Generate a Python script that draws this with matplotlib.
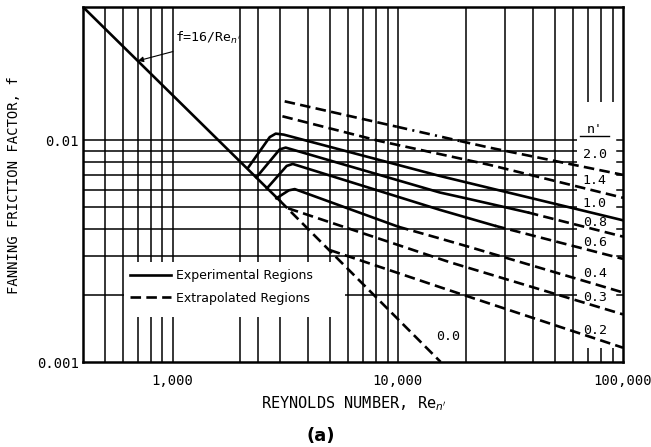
import matplotlib
matplotlib.use("Agg")
import matplotlib.pyplot as plt
from matplotlib.lines import Line2D
from matplotlib.patches import Rectangle
from matplotlib.ticker import NullLocator

plt.rcParams['mathtext.fontset'] = 'dejavusans'
MONO = 'DejaVu Sans Mono'

# ---------------- data ----------------
x_ticks = [1000, 10000, 100000]
x_tick_labels = ["1,000", "10,000", "100,000"]
y_ticks = [0.001, 0.01]
y_tick_labels = ["0.001", "0.01"]

x_grid = [500, 600, 700, 800, 900, 1000, 2000, 2400, 3000, 4000, 5000, 6000,
          7000, 8000, 9000, 10000, 20000, 30000, 40000, 50000, 60000, 70000,
          80000, 90000]
y_grid = [0.002, 0.003, 0.004, 0.005, 0.006, 0.007, 0.008, 0.009, 0.01]

# laminar line f = 16/Re
lam_re = [400, 2990]
lam_f = [0.0400, 0.00535]

# experimental (solid) regions
exp_n10_re = [2160, 2700, 2870, 3114, 15370, 100000]
exp_n10_f = [0.00751, 0.01035, 0.01073, 0.01062, 0.00691, 0.00436]
exp_n08_re = [2355, 2989, 3178, 15370, 20890, 37830]
exp_n08_f = [0.00681, 0.00911, 0.00928, 0.00582, 0.00543, 0.00473]
exp_n06_re = [2625, 3210, 3415, 15370, 26980]
exp_n06_f = [0.00608, 0.00767, 0.00783, 0.00486, 0.00412]
exp_n04_re = [2890, 3279, 3485, 10030]
exp_n04_f = [0.00548, 0.00595, 0.00603, 0.00408]

# extrapolated (dashed) regions
ext_n20a_re = [3145, 9900]
ext_n20a_f = [0.01501, 0.01153]
ext_n20b_re = [9900, 18860]          # printed dash-dot stretch
ext_n20b_f = [0.01153, 0.00994]
ext_n20c_re = [18860, 25640, 100000]
ext_n20c_f = [0.00994, 0.00927, 0.00699]
ext_n14_re = [3073, 8318, 25640, 100000]
ext_n14_f = [0.01285, 0.00993, 0.00775, 0.00551]
ext_n08_re = [37830, 100000]
ext_n08_f = [0.00473, 0.00368]
ext_n06_re = [26980, 100000]
ext_n06_f = [0.00412, 0.00292]
ext_n04_re = [10030, 15370, 20890, 100000]
ext_n04_f = [0.00408, 0.00361, 0.00330, 0.00206]
ext_n03_re = [3253, 17020, 100000]
ext_n03_f = [0.00494, 0.00282, 0.00164]
ext_n02_re = [4988, 16180, 100000]
ext_n02_f = [0.00320, 0.00214, 0.00116]
ext_n00_re = [2990, 15500]
ext_n00_f = [0.00535, 0.00100]

n_labels = ["2.0", "1.4", "1.0", "0.8", "0.6", "0.4", "0.3", "0.2"]
n_label_f = [0.00865, 0.00657, 0.00518, 0.00425, 0.00346, 0.00250, 0.00196, 0.00139]

# ---------------- figure ----------------
W, H = 651, 447
fig = plt.figure(figsize=(W / 100, H / 100), dpi=100)
ax = fig.add_axes([83 / W, (H - 362) / H, 540 / W, 355 / H])
ax.set_xscale('log')
ax.set_yscale('log')
ax.set_xlim(400, 100000)
ax.set_ylim(0.001, 0.04)

GRID_LW = 1.1
CURVE_LW = 1.9
DASH = (0, (4, 2))
DASHDOT = (0, (4, 2, 0.8, 2))

for v in x_grid:
    ax.axvline(v, color='black', lw=GRID_LW, zorder=1)
for v in y_grid:
    ax.axhline(v, xmin=0, xmax=0.915, color='black', lw=GRID_LW, zorder=1)

# white areas: label column and legend box
ax.add_patch(Rectangle((0.9148, 0.0394), 0.0852, 0.693, transform=ax.transAxes,
                       facecolor='white', edgecolor='none', zorder=1.5))
ax.add_patch(Rectangle((0.0759, 0.1268), 0.409, 0.155, transform=ax.transAxes,
                       facecolor='white', edgecolor='none', zorder=1.5))

# right-edge ticks
for v in y_grid:
    ax.axhline(v, xmin=0.988, xmax=1.0, color='black', lw=GRID_LW, zorder=2)

# curves
ax.plot(lam_re, lam_f, color='black', lw=CURVE_LW, zorder=3)
for re, f in [(exp_n10_re, exp_n10_f), (exp_n08_re, exp_n08_f),
              (exp_n06_re, exp_n06_f), (exp_n04_re, exp_n04_f)]:
    ax.plot(re, f, color='black', lw=CURVE_LW, zorder=3,
            solid_joinstyle='round')
for re, f in [(ext_n20a_re, ext_n20a_f), (ext_n20c_re, ext_n20c_f),
              (ext_n14_re, ext_n14_f),
              (ext_n08_re, ext_n08_f), (ext_n06_re, ext_n06_f),
              (ext_n04_re, ext_n04_f), (ext_n03_re, ext_n03_f),
              (ext_n02_re, ext_n02_f), (ext_n00_re, ext_n00_f)]:
    ax.plot(re, f, color='black', lw=CURVE_LW, ls=DASH, zorder=3)
ax.plot(ext_n20b_re, ext_n20b_f, color='black', lw=CURVE_LW, ls=DASHDOT, zorder=3)

# n' labels
label_re = 75000
ax.text(label_re, 0.01124, "n'", ha='center', va='center', family=MONO, fontsize=9.5, zorder=4)
ax.plot([64500, 87000], [0.01045, 0.01045], color='black', lw=1.0, zorder=4)
for lab, fy in zip(n_labels, n_label_f):
    ax.text(label_re, fy, lab, ha='center', va='center', family=MONO,
            fontsize=9.5, zorder=4)
ax.text(16680, 0.00131, "0.0", ha='center', va='center', family=MONO,
        fontsize=9.5, zorder=4)

# f = 16/Re label with leader arrow
ax.text(1020, 0.0279, "f=16/Re$_{n'}$", ha='left', va='baseline', family=MONO,
        fontsize=9.5, zorder=4)
ax.annotate("", xy=(701, 0.02286), xytext=(1003, 0.02518),
            arrowprops=dict(arrowstyle='-|>', color='black', lw=0.8,
                            mutation_scale=8, shrinkA=0, shrinkB=0), zorder=4)

# legend
handles = [Line2D([], [], color='black', lw=CURVE_LW),
           Line2D([], [], color='black', lw=CURVE_LW, ls=DASH)]
leg = ax.legend(handles, ["Experimental Regions", "Extrapolated Regions"],
                loc='upper left', bbox_to_anchor=(0.087, 0.261), frameon=False,
                borderaxespad=0, borderpad=0, handlelength=3.3,
                handletextpad=0.35, labelspacing=0.75,
                prop={'family': 'DejaVu Sans', 'size': 9})
leg.set_zorder(4)

# axes styling
ax.set_xticks(x_ticks)
ax.set_xticklabels(x_tick_labels)
ax.set_yticks(y_ticks)
ax.set_yticklabels(y_tick_labels)
ax.xaxis.set_minor_locator(NullLocator())
ax.yaxis.set_minor_locator(NullLocator())
ax.tick_params(axis='x', length=0, pad=8.5, labelsize=10)
ax.tick_params(axis='y', length=0, pad=3, labelsize=10)
for lab in ax.get_xticklabels() + ax.get_yticklabels():
    lab.set_family(MONO)
for sp in ax.spines.values():
    sp.set_linewidth(1.8)
    sp.set_zorder(5)

fig.text(14 / W, 1 - 185 / H, "FANNING FRICTION FACTOR, f", rotation=90,
         ha='center', va='center', family=MONO, fontsize=10)
fig.text(354 / W, 1 - 408 / H, "REYNOLDS NUMBER, Re$_{n'}$", ha='center',
         va='baseline', family=MONO, fontsize=11)
fig.text(321 / W, 1 - 436 / H, "(a)", ha='center', va='center',
         family='DejaVu Sans', fontweight='bold', fontsize=13)

fig.savefig("out.png", dpi=100)
